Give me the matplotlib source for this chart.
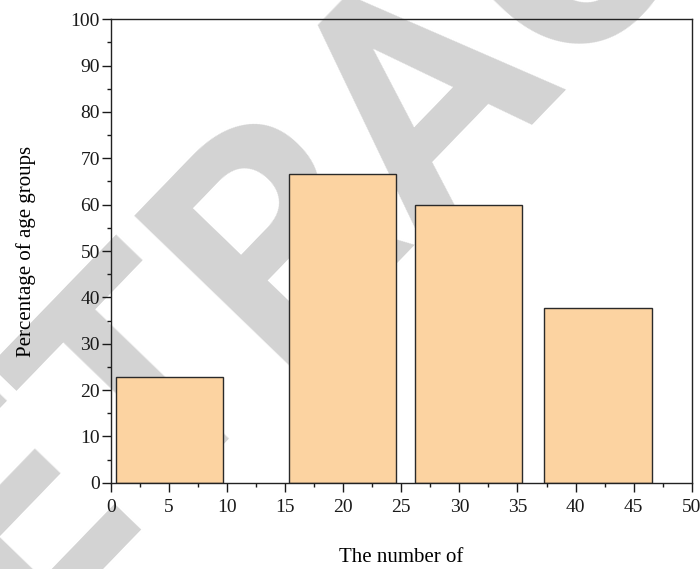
import matplotlib
matplotlib.use("Agg")
import matplotlib.pyplot as plt
from matplotlib.ticker import MultipleLocator

# Bars: centres on the x scale, heights (%), common width
bar_centers = [5.05, 19.9, 30.8, 41.93]
percentages = [22.9, 66.6, 59.9, 37.8]
bar_width = 9.22

x_ticks = [0, 5, 10, 15, 20, 25, 30, 35, 40, 45, 50]
y_ticks = [0, 10, 20, 30, 40, 50, 60, 70, 80, 90, 100]

plt.rcParams["font.family"] = ["Liberation Serif", "DejaVu Serif"]

W, H = 700, 569
fig = plt.figure(figsize=(W / 100, H / 100), dpi=100)
fig.patch.set_facecolor("white")

# Diagonal stamp drawn behind the axes
fig.text(491.5 / W, 1 - 146.5 / H, "RETRACTED", rotation=46,
         rotation_mode="anchor", ha="center", va="baseline",
         fontsize=226, fontweight="bold", family="Roboto",
         color="#d3d3d3", zorder=-10)

ax = fig.add_axes([111 / W, 1 - 482.7 / H, 580.7 / W, 463.4 / H])
ax.patch.set_facecolor("none")

ax.bar(bar_centers, percentages, width=bar_width, color="#FCD3A1",
       edgecolor="#2a2a2a", linewidth=1.0, zorder=2)

ax.set_xlim(0, 50)
ax.set_ylim(0, 100)
ax.set_xticks(x_ticks)
ax.set_yticks(y_ticks)
ax.xaxis.set_minor_locator(MultipleLocator(2.5))
ax.yaxis.set_minor_locator(MultipleLocator(5))

ax.tick_params(which="major", direction="out", length=6.5, width=1.0,
               labelsize=14, colors="#1a1a1a")
ax.tick_params(which="minor", direction="out", length=3.2, width=1.0,
               colors="#1a1a1a")
ax.tick_params(axis="x", which="major", pad=5)
ax.tick_params(axis="y", which="major", pad=1.5)
ax.tick_params(top=False, right=False, which="both")

for sp in ax.spines.values():
    sp.set_linewidth(1.0)
    sp.set_color("#222222")

ax.set_ylabel("Percentage of age groups", fontsize=15, labelpad=25)
ax.set_xlabel("The number of", fontsize=15, labelpad=23)

fig.savefig("out.png", dpi=100)
